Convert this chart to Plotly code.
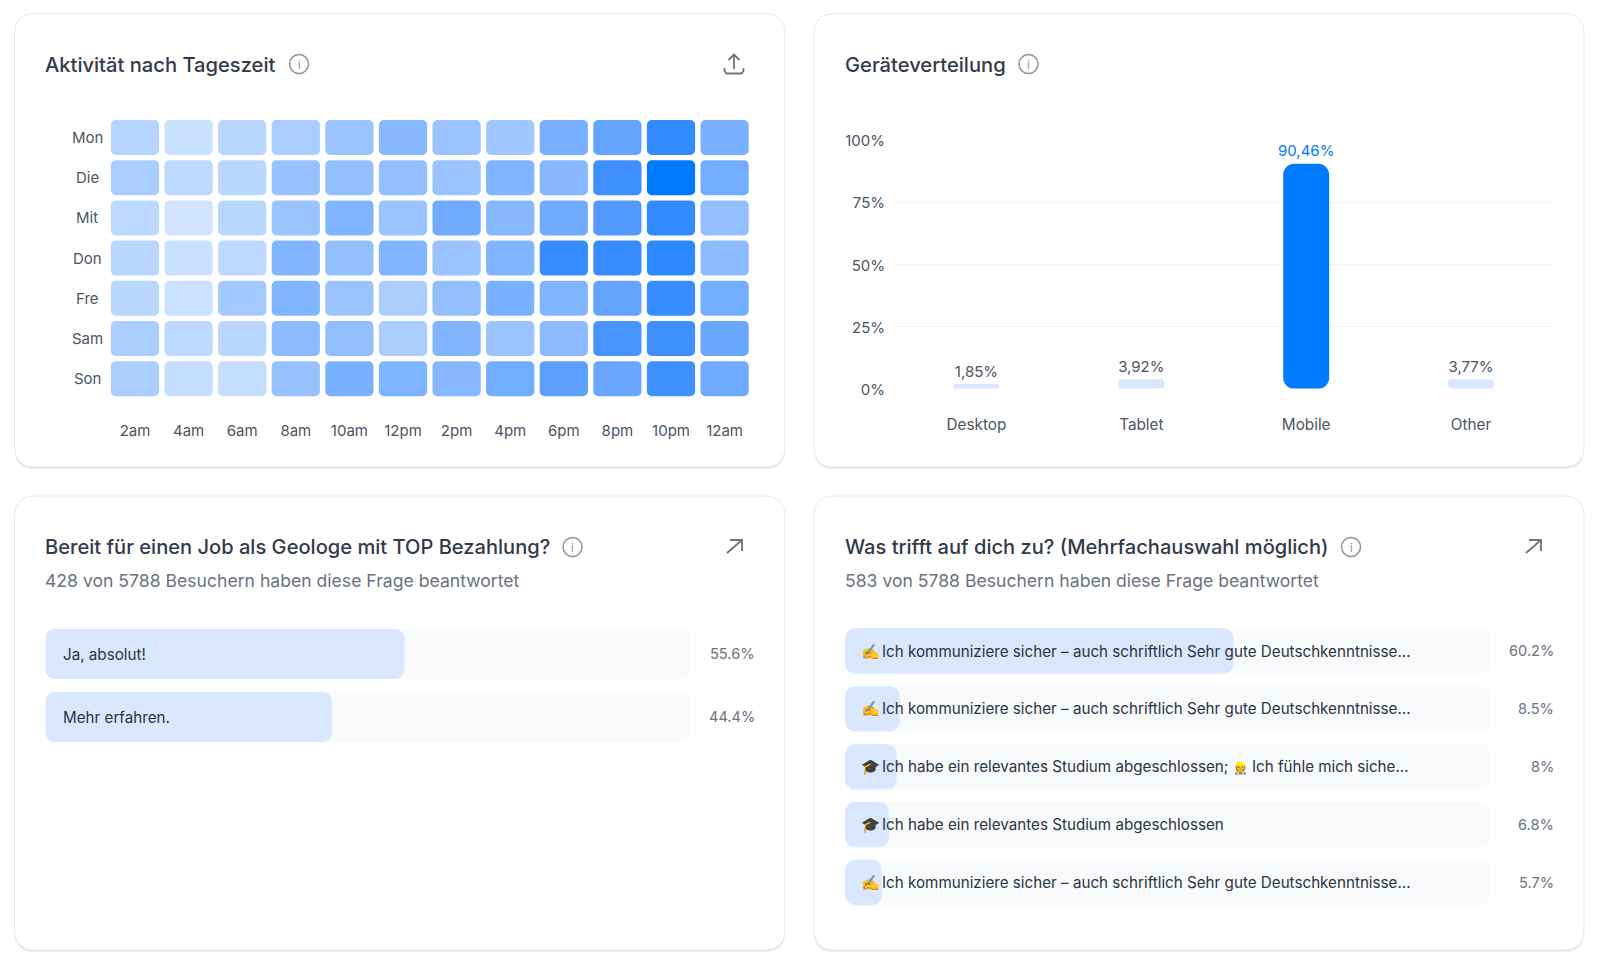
import plotly.graph_objects as go

W, H = 1600, 965

# Activity by hour and weekday (share of peak, percent)
DAYS = ["Mon", "Die", "Mit", "Don", "Fre", "Sam", "Son"]
HOURS = ["2am", "4am", "6am", "8am", "10am", "12pm", "2pm", "4pm", "6pm", "8pm", "10pm", "12am"]
ACTIVITY = [
    [32, 23, 30, 36, 42, 50, 42, 40, 55, 62, 80, 55],
    [36, 28, 30, 43, 45, 45, 42, 52, 50, 75, 100, 57],
    [28, 20, 30, 42, 52, 42, 58, 50, 58, 68, 80, 45],
    [30, 23, 28, 52, 45, 52, 42, 52, 78, 78, 82, 48],
    [30, 22, 38, 52, 42, 35, 45, 55, 52, 62, 78, 57],
    [35, 28, 30, 48, 45, 35, 52, 42, 48, 72, 75, 60],
    [35, 25, 25, 43, 55, 53, 50, 57, 65, 60, 75, 58],
]

# Device split
DEVICES = ["Desktop", "Tablet", "Mobile", "Other"]
DEVICE_SHARE = [1.85, 3.92, 90.46, 3.77]
DEVICE_LABELS = ["1,85%", "3,92%", "90,46%", "3,77%"]
SHARE_TICKS = [0, 25, 50, 75, 100]

# Survey: geologist job
JOB_ANSWERS = ["Ja, absolut!", "Mehr erfahren."]
JOB_SHARE = [55.6, 44.4]
JOB_LABELS = ["55.6%", "44.4%"]

# Survey: multiple choice
SKILL_ICONS = ["✍️", "✍️", "🎓", "🎓", "✍️"]
SKILL_ANSWERS = [
    "Ich kommuniziere sicher – auch schriftlich Sehr gute Deutschkenntnisse...",
    "Ich kommuniziere sicher – auch schriftlich Sehr gute Deutschkenntnisse...",
    "Ich habe ein relevantes Studium abgeschlossen; <span style='font-size:12px'>👷</span> Ich fühle mich siche...",
    "Ich habe ein relevantes Studium abgeschlossen",
    "Ich kommuniziere sicher – auch schriftlich Sehr gute Deutschkenntnisse...",
]
SKILL_SHARE = [60.2, 8.5, 8.0, 6.8, 5.7]
SKILL_LABELS = ["60.2%", "8.5%", "8%", "6.8%", "5.7%"]

FONT = "Inter"
BLUE = "#007AFF"
PALE = "#D9E8FF"
TRACK = "#F9FAFB"
GRID = "#F3F4F6"
INK = "#333A49"
TEXT = "#2B3443"
MUTED = "#6B7280"
BODY = "#4B5563"
HEAT_SCALE = [[0, "#FFFFFF"], [0.25, "#C5DDFF"], [0.5, "#87B8FF"], [0.75, "#3F8FFF"], [1, BLUE]]


def px(x):
    return x / W


def py(y):
    return 1 - y / H


def xdom(a, b):
    return [px(a), px(b)]


def ydom(top, bottom):
    return [py(bottom), py(top)]


def round_rect(x0, y0, x1, y1, r):
    pts = [
        f"M{px(x0 + r)},{py(y0)}", f"L{px(x1 - r)},{py(y0)}",
        f"Q{px(x1)},{py(y0)} {px(x1)},{py(y0 + r)}", f"L{px(x1)},{py(y1 - r)}",
        f"Q{px(x1)},{py(y1)} {px(x1 - r)},{py(y1)}", f"L{px(x0 + r)},{py(y1)}",
        f"Q{px(x0)},{py(y1)} {px(x0)},{py(y1 - r)}", f"L{px(x0)},{py(y0 + r)}",
        f"Q{px(x0)},{py(y0)} {px(x0 + r)},{py(y0)}", "Z",
    ]
    return " ".join(pts)


def polyline(points):
    return "M" + " L".join(f"{px(x)},{py(y)}" for x, y in points)


shapes = []
annotations = []


def label(x, y, text, size=15, color=BODY, anchor="left", weight=400, family=FONT):
    annotations.append(dict(
        x=px(x), y=py(y), xref="paper", yref="paper", text=text, showarrow=False,
        xanchor=anchor, yanchor="middle", borderpad=0, borderwidth=0,
        font=dict(family=family, size=size, color=color, weight=weight),
    ))


def card(x0, y0, x1, y1):
    # soft drop shadow, then the card body with its hairline border
    for off, col in ((3, "rgba(0,0,0,0.02)"), (2, "rgba(0,0,0,0.04)"), (1, "rgba(0,0,0,0.08)")):
        shapes.append(dict(type="path", xref="paper", yref="paper", layer="below",
                           path=round_rect(x0, y0 + off, x1, y1 + off, 20),
                           fillcolor=col, line=dict(width=0)))
    shapes.append(dict(type="path", xref="paper", yref="paper", layer="below",
                       path=round_rect(x0, y0, x1, y1, 20), fillcolor="#FFFFFF",
                       line=dict(color="#E8E9EC", width=1)))


def info_icon(x, y):
    shapes.append(dict(type="circle", xref="paper", yref="paper", layer="above",
                       x0=px(x - 9.5), x1=px(x + 9.5), y0=py(y + 9.5), y1=py(y - 9.5),
                       line=dict(color="#8F939B", width=1.5), fillcolor="rgba(0,0,0,0)"))
    label(x, y + 0.5, "i", size=11, color="#8F939B", anchor="center")


def icon_path(points):
    shapes.append(dict(type="path", xref="paper", yref="paper", layer="above",
                       path=polyline(points), line=dict(color=MUTED, width=1.8)))


def open_arrow(dx):
    icon_path([(727 + dx, 553), (742 + dx, 540)])
    icon_path([(730 + dx, 540), (742 + dx, 540), (742 + dx, 551)])


def rounded_bars(fig, positions, values, base, thickness, radius, color, name,
                 orient, xaxis, yaxis, colorscale=None):
    """Bars given an explicit base get their corner radius on both ends."""
    marker = dict(color=color, cornerradius=radius, line=dict(width=0))
    if colorscale:
        marker.update(colorscale=colorscale, cmin=0, cmax=100, showscale=False)
    common = dict(base=base, width=thickness, marker=marker, orientation=orient,
                  xaxis=xaxis, yaxis=yaxis, name=name, showlegend=False)
    if orient == "h":
        fig.add_trace(go.Bar(x=values, y=positions, **common))
    else:
        fig.add_trace(go.Bar(x=positions, y=values, **common))


fig = go.Figure()

for box in ((14.5, 13.5, 785, 467), (814, 13.5, 1584, 467), (14.5, 496, 785, 950), (814, 496, 1584, 950)):
    card(*box)

# Heatmap: one rounded cell per weekday and hour
cell_x, cell_y, cell_z = [], [], []
for r, row in enumerate(ACTIVITY):
    for c, v in enumerate(row):
        cell_x.append(HOURS[c])
        cell_y.append(r)
        cell_z.append(v)
rounded_bars(fig, cell_x, [0.87] * len(cell_x), [r - 0.435 for r in cell_y], 0.9, 5, cell_z,
             "Aktivität", "v", "x", "y", colorscale=HEAT_SCALE)

# Device bars with value labels; the hidden markers hold the labels clear of the bar tops
colors = [BLUE if v == max(DEVICE_SHARE) else PALE for v in DEVICE_SHARE]
rounded_bars(fig, DEVICES, DEVICE_SHARE, [0] * 4, 0.279, 11, colors, "Geräte", "v", "x2", "y2")
fig.add_trace(go.Scatter(
    x=DEVICES, y=DEVICE_SHARE, mode="markers+text", text=DEVICE_LABELS, textposition="top center",
    marker=dict(size=4, opacity=0),
    textfont=dict(family=FONT, size=15, color=[BLUE if v == max(DEVICE_SHARE) else BODY for v in DEVICE_SHARE]),
    xaxis="x2", yaxis="y2", showlegend=False, hoverinfo="skip", cliponaxis=False,
))

# Job survey
job_rows = list(range(len(JOB_SHARE)))
rounded_bars(fig, job_rows, [100] * 2, [0] * 2, 0.794, 9, TRACK, "Gesamt", "h", "x3", "y3")
rounded_bars(fig, job_rows, JOB_SHARE, [0] * 2, 0.794, 9, PALE, "Antworten", "h", "x3", "y3")

# Skills survey
skill_rows = list(range(len(SKILL_SHARE)))
rounded_bars(fig, skill_rows, [100] * 5, [0] * 5, 0.784, 10, TRACK, "Gesamt", "h", "x4", "y4")
rounded_bars(fig, skill_rows, SKILL_SHARE, [0] * 5, 0.784, 10, PALE, "Antworten", "h", "x4", "y4")

# Titles, subtitles and header icons
label(45, 64.5, "Aktivität nach Tageszeit", 20.15, INK, weight=500)
info_icon(299, 64)
label(844.5, 64.5, "Geräteverteilung", 20.15, INK, weight=500)
info_icon(1028.5, 64)
label(45, 547, "Bereit für einen Job als Geologe mit TOP Bezahlung?", 20.1, INK, weight=500)
info_icon(572.5, 547)
label(45, 580, "428 von 5788 Besuchern haben diese Frage beantwortet", 17.6, MUTED)
label(844.5, 547, "Was trifft auf dich zu? (Mehrfachauswahl möglich)", 20.1, INK, weight=500)
info_icon(1351, 547)
label(844.5, 580, "583 von 5788 Besuchern haben diese Frage beantwortet", 17.6, MUTED)

icon_path([(734, 69), (734, 55)])
icon_path([(728.5, 60), (734, 54.5), (739.5, 60)])
icon_path([(724.5, 68), (724.5, 71), (726.5, 73.5), (741.5, 73.5), (743.5, 71), (743.5, 68)])
open_arrow(0)
open_arrow(799)

# Weekday labels are centred in their gutter
for r, day in enumerate(DAYS):
    annotations.append(dict(x=px(87), y=r, xref="paper", yref="y", text=day, showarrow=False,
                            xanchor="center", yanchor="middle",
                            font=dict(family=FONT, size=15, color=BODY)))

# Answer text and percentages
for r, (text, share) in enumerate(zip(JOB_ANSWERS, JOB_LABELS)):
    y = 654 + 63 * r
    label(63, y, text, 15.2, TEXT)
    label(754.5, y, share, 14.6, MUTED, anchor="right")

for r, (icon, text, share) in enumerate(zip(SKILL_ICONS, SKILL_ANSWERS, SKILL_LABELS)):
    y = 651 + 57.9 * r
    label(861, y, icon, 15.2, TEXT)
    label(881.5, y, text, 15.2, TEXT)
    label(1553.5, y, share, 14.6, MUTED, anchor="right")

tick_font = dict(family=FONT, size=15, color=BODY)
hidden = dict(showgrid=False, zeroline=False, showticklabels=False, ticks="", showline=False)

fig.update_layout(
    width=W, height=H, autosize=False,
    margin=dict(l=0, r=0, t=0, b=0, autoexpand=False),
    paper_bgcolor="#FFFFFF", plot_bgcolor="rgba(0,0,0,0)",
    barmode="overlay", showlegend=False, shapes=shapes, annotations=annotations,
    font=dict(family=FONT),
    xaxis=dict(domain=xdom(108.2, 751.4), type="category", categoryorder="array", categoryarray=HOURS,
               showgrid=False, zeroline=False, showline=False, anchor="y", tickfont=tick_font,
               ticks="", ticklabelstandoff=21),
    yaxis=dict(domain=ydom(117.4, 398.8), range=[6.5, -0.5], anchor="x", **hidden),
    xaxis2=dict(domain=xdom(894, 1553.5), type="category", categoryorder="array", categoryarray=DEVICES,
                showgrid=False, zeroline=False, showline=False, anchor="y2",
                tickfont=dict(family=FONT, size=15.3, color=BODY), ticks="", ticklabelstandoff=25),
    yaxis2=dict(domain=ydom(140, 388.7), range=[0, 100], anchor="x2", tickvals=SHARE_TICKS,
                ticktext=[f"{t}%" for t in SHARE_TICKS], tickfont=tick_font, showgrid=True,
                gridcolor=GRID, gridwidth=1, zeroline=False, showline=False, ticks="",
                ticklabelstandoff=8, ticklabelshift=1),
    xaxis3=dict(domain=xdom(45.4, 691), range=[0, 100], anchor="y3", **hidden),
    yaxis3=dict(domain=ydom(622.5, 748.5), range=[1.5, -0.5], anchor="x3", **hidden),
    xaxis4=dict(domain=xdom(845, 1490.3), range=[0, 100], anchor="y4", **hidden),
    yaxis4=dict(domain=ydom(622, 911.5), range=[4.5, -0.5], anchor="x4", **hidden),
)

fig.write_html("out.html", config=dict(displayModeBar=False))
